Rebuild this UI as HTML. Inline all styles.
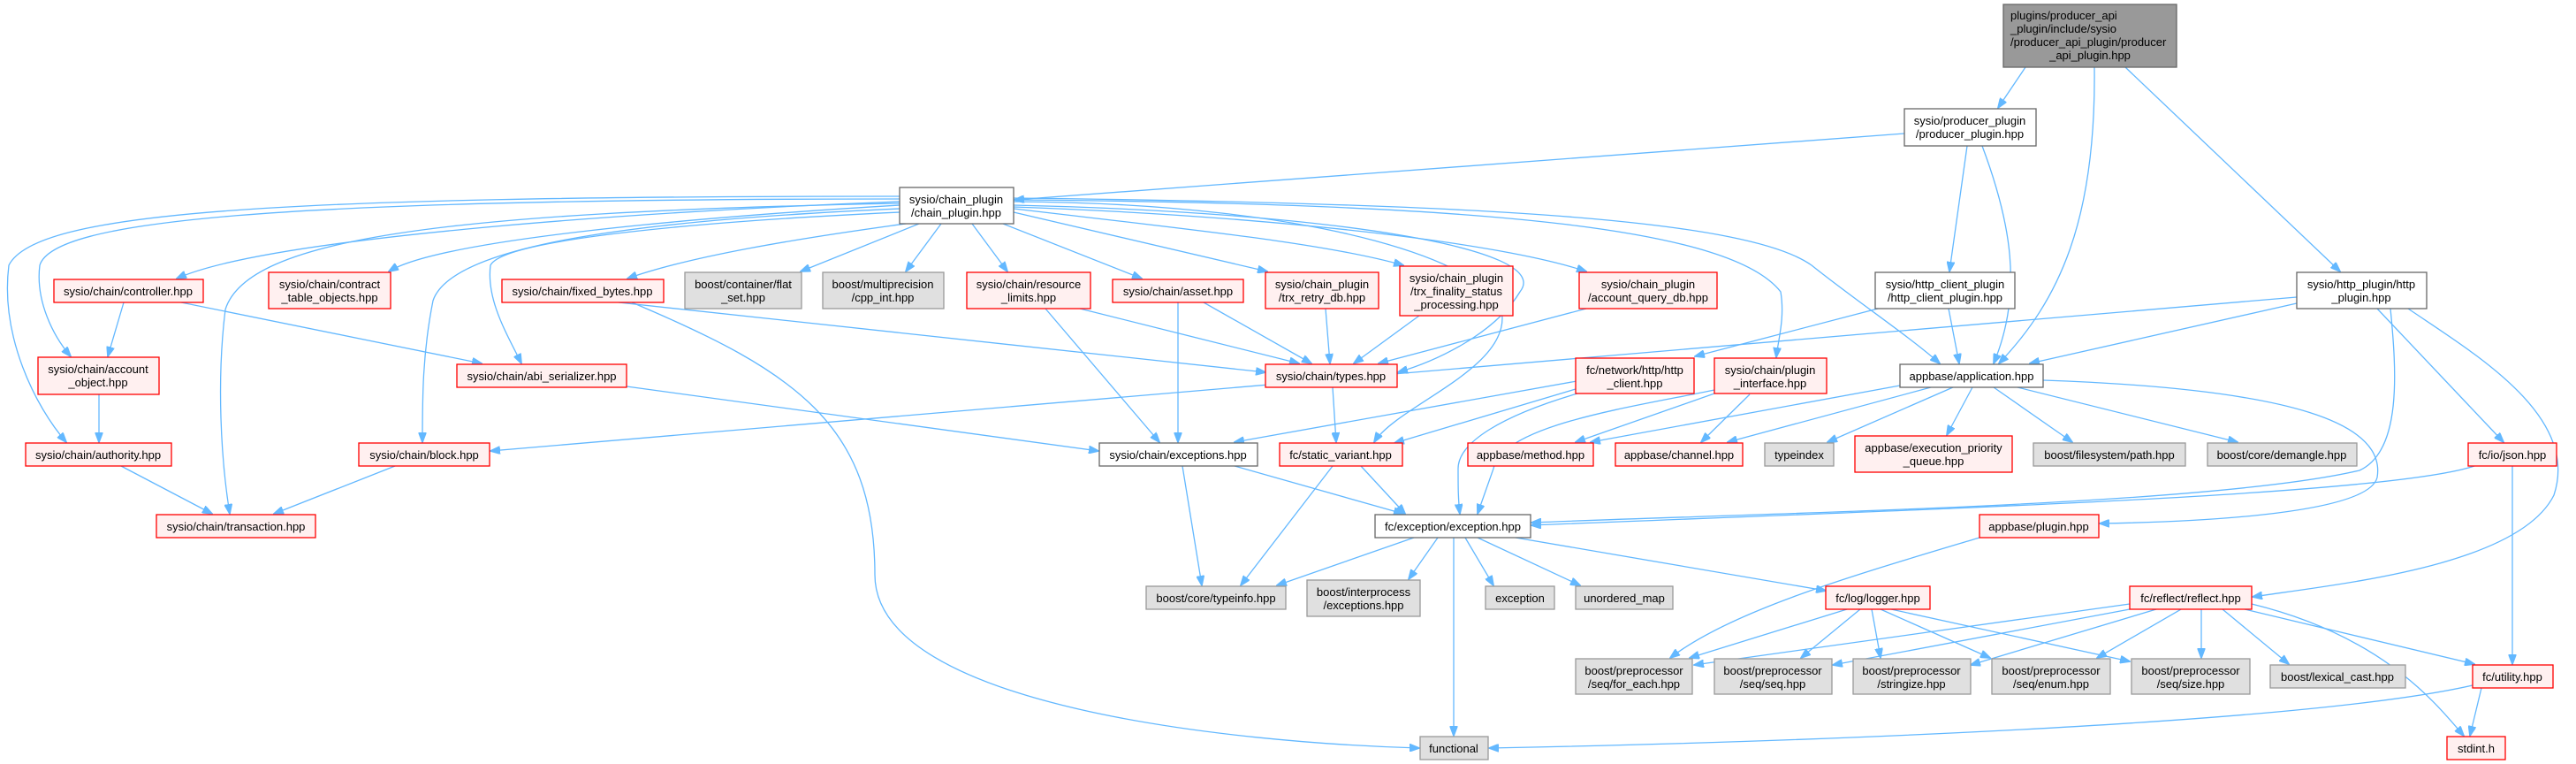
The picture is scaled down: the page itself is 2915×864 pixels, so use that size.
<!DOCTYPE html>
<html><head><meta charset="utf-8"><style>
html,body{margin:0;padding:0;background:#fff;width:2915px;height:864px;overflow:hidden}
svg{display:block}
text{font-family:"Liberation Sans",Arial,sans-serif;font-size:13px;fill:#000}
.e{fill:none;stroke:#63b8ff;stroke-width:1.3}
.r{fill:#fff0f0;stroke:#ff0000;stroke-width:1.3}
.g{fill:#e0e0e0;stroke:#999;stroke-width:1.3}
.w{fill:#fff;stroke:#666;stroke-width:1.3}
.k{fill:#999;stroke:#666;stroke-width:1.3}
</style></head><body>
<svg width="2915" height="864" viewBox="0 0 2915 864" xmlns="http://www.w3.org/2000/svg">
<defs><marker id="a" markerWidth="12" markerHeight="9" refX="11" refY="4.5" orient="auto" markerUnits="userSpaceOnUse"><path d="M0,0 L12,4.5 L0,9 z" fill="#63b8ff" stroke="#63b8ff"/></marker></defs>
<g marker-end="url(#a)">
<path class="e" d="M2292,76 L2261,122"/>
<path class="e" d="M2370,76 C2372,250 2330,340 2262,411"/>
<path class="e" d="M2405,76 L2648,307"/>
<path class="e" d="M2155,151 L1148,226"/>
<path class="e" d="M2226,165 L2206,307"/>
<path class="e" d="M2243,165 C2275,250 2290,330 2256,411"/>
<path class="e" d="M1018,228 C700,240 300,270 200,315"/>
<path class="e" d="M1018,232 C800,245 500,270 440,307"/>
<path class="e" d="M1025,253 C900,270 780,290 710,315"/>
<path class="e" d="M1040,253 L906,307"/>
<path class="e" d="M1065,253 L1025,307"/>
<path class="e" d="M1100,253 L1140,307"/>
<path class="e" d="M1135,253 L1292,315"/>
<path class="e" d="M1147,240 L1434,307"/>
<path class="e" d="M1147,236 C1350,260 1500,275 1588,300"/>
<path class="e" d="M1147,234 C1450,245 1700,275 1795,307"/>
<path class="e" d="M1147,232 C1500,240 1760,280 1720,330 C1690,380 1620,410 1582,421"/>
<path class="e" d="M1018,225 C300,225 60,250 45,300 C40,340 60,380 80,403"/>
<path class="e" d="M1018,222 C300,222 40,240 10,300 C0,380 40,460 75,500"/>
<path class="e" d="M1018,230 C500,240 280,270 255,350 C245,430 250,520 260,581"/>
<path class="e" d="M1018,236 C700,250 510,280 490,340 C478,400 478,450 478,500"/>
<path class="e" d="M1018,240 C800,250 570,270 555,300 C550,340 575,380 590,411"/>
<path class="e" d="M1147,228 C1500,230 1700,300 1700,360 C1700,420 1580,460 1555,500"/>
<path class="e" d="M1147,226 C1700,230 1960,260 2015,330 C2020,360 2012,385 2010,404"/>
<path class="e" d="M1147,224 C1700,230 1980,250 2050,300 C2100,340 2160,380 2195,411"/>
<path class="e" d="M700,342 L1432,421"/>
<path class="e" d="M715,342 C900,420 990,480 990,650 C990,800 1400,840 1606,846"/>
<path class="e" d="M140,342 L122,403"/>
<path class="e" d="M205,342 L545,411"/>
<path class="e" d="M112,446 L112,500"/>
<path class="e" d="M709,437 L1243,510"/>
<path class="e" d="M137,527 L240,581"/>
<path class="e" d="M447,527 L310,581"/>
<path class="e" d="M1183,349 L1312,500"/>
<path class="e" d="M1222,349 L1470,411"/>
<path class="e" d="M1333,342 L1333,500"/>
<path class="e" d="M1362,342 L1484,411"/>
<path class="e" d="M1500,349 L1505,411"/>
<path class="e" d="M1606,357 L1532,411"/>
<path class="e" d="M1795,349 L1560,411"/>
<path class="e" d="M1508,438 L1512,500"/>
<path class="e" d="M1338,527 L1360,662"/>
<path class="e" d="M1397,527 L1588,581"/>
<path class="e" d="M1508,527 L1404,662"/>
<path class="e" d="M1540,527 L1590,581"/>
<path class="e" d="M1600,608 L1445,662"/>
<path class="e" d="M1627,608 L1594,655"/>
<path class="e" d="M1645,608 L1645,832"/>
<path class="e" d="M1658,608 L1690,662"/>
<path class="e" d="M1672,608 L1788,662"/>
<path class="e" d="M1715,608 L2066,668"/>
<path class="e" d="M1783,440 L1578,501"/>
<path class="e" d="M1785,445 C1700,470 1650,500 1650,530 C1650,550 1650,565 1652,581"/>
<path class="e" d="M1790,430 L1397,500"/>
<path class="e" d="M1940,445 L1783,500"/>
<path class="e" d="M1980,446 L1925,500"/>
<path class="e" d="M1945,440 C1850,460 1700,480 1690,530 L1672,581"/>
<path class="e" d="M2125,349 L1918,403"/>
<path class="e" d="M2205,349 L2217,411"/>
<path class="e" d="M2599,336 L555,510"/>
<path class="e" d="M2599,343 L2297,411"/>
<path class="e" d="M2690,349 L2833,500"/>
<path class="e" d="M2725,349 C2800,400 2920,470 2890,560 C2850,640 2650,660 2549,675"/>
<path class="e" d="M2705,349 C2712,420 2718,510 2670,532 C2500,572 2000,580 1733,591"/>
<path class="e" d="M2150,436 L1800,500"/>
<path class="e" d="M2185,438 L1955,500"/>
<path class="e" d="M2210,438 L2068,500"/>
<path class="e" d="M2232,438 L2203,492"/>
<path class="e" d="M2256,438 L2345,500"/>
<path class="e" d="M2283,438 L2532,500"/>
<path class="e" d="M2312,430 C2600,440 2700,480 2690,540 C2680,580 2500,590 2376,592"/>
<path class="e" d="M2800,527 C2700,560 2200,575 1733,594"/>
<path class="e" d="M2843,527 L2843,751"/>
<path class="e" d="M2240,608 C2100,650 1960,690 1890,744"/>
<path class="e" d="M2090,689 L1912,744"/>
<path class="e" d="M2105,689 L2038,744"/>
<path class="e" d="M2118,689 L2128,744"/>
<path class="e" d="M2128,689 L2252,744"/>
<path class="e" d="M2140,689 L2410,748"/>
<path class="e" d="M2410,683 L1917,752"/>
<path class="e" d="M2410,689 L2074,752"/>
<path class="e" d="M2440,689 L2230,752"/>
<path class="e" d="M2468,689 L2373,744"/>
<path class="e" d="M2491,689 L2491,744"/>
<path class="e" d="M2515,689 L2590,751"/>
<path class="e" d="M2540,689 L2800,751"/>
<path class="e" d="M2548,683 C2700,720 2760,800 2788,832"/>
<path class="e" d="M2808,778 L2795,832"/>
<path class="e" d="M2798,775 C2600,820 2000,840 1685,846"/>
</g>
<g>
<rect class="k" x="2267" y="5" width="196" height="71"/>
<text x="2275" y="22">plugins/producer_api</text>
<text x="2275" y="37">_plugin/include/sysio</text>
<text x="2275" y="52">/producer_api_plugin/producer</text>
<text x="2365" y="67" text-anchor="middle">_api_plugin.hpp</text>
</g>
<g text-anchor="middle">
<rect class="w" x="2155" y="123" width="149" height="42"/><text x="2229" y="141">sysio/producer_plugin</text><text x="2229" y="156">/producer_plugin.hpp</text>
<rect class="w" x="1018" y="212" width="129" height="41"/><text x="1082" y="230">sysio/chain_plugin</text><text x="1082" y="245">/chain_plugin.hpp</text>
<rect class="r" x="61" y="316" width="169" height="26"/><text x="145" y="334">sysio/chain/controller.hpp</text>
<rect class="r" x="304" y="308" width="138" height="41"/><text x="373" y="326">sysio/chain/contract</text><text x="373" y="341">_table_objects.hpp</text>
<rect class="r" x="568" y="316" width="183" height="26"/><text x="659" y="334">sysio/chain/fixed_bytes.hpp</text>
<rect class="g" x="775" y="308" width="132" height="41"/><text x="841" y="326">boost/container/flat</text><text x="841" y="341">_set.hpp</text>
<rect class="g" x="931" y="308" width="137" height="41"/><text x="999" y="326">boost/multiprecision</text><text x="999" y="341">/cpp_int.hpp</text>
<rect class="r" x="1094" y="308" width="140" height="41"/><text x="1164" y="326">sysio/chain/resource</text><text x="1164" y="341">_limits.hpp</text>
<rect class="r" x="1259" y="316" width="148" height="26"/><text x="1333" y="334">sysio/chain/asset.hpp</text>
<rect class="r" x="1432" y="308" width="128" height="41"/><text x="1496" y="326">sysio/chain_plugin</text><text x="1496" y="341">/trx_retry_db.hpp</text>
<rect class="r" x="1584" y="301" width="128" height="56"/><text x="1648" y="319">sysio/chain_plugin</text><text x="1648" y="334">/trx_finality_status</text><text x="1648" y="349">_processing.hpp</text>
<rect class="r" x="1787" y="308" width="156" height="41"/><text x="1865" y="326">sysio/chain_plugin</text><text x="1865" y="341">/account_query_db.hpp</text>
<rect class="w" x="2122" y="308" width="158" height="41"/><text x="2201" y="326">sysio/http_client_plugin</text><text x="2201" y="341">/http_client_plugin.hpp</text>
<rect class="w" x="2599" y="308" width="147" height="41"/><text x="2672" y="326">sysio/http_plugin/http</text><text x="2672" y="341">_plugin.hpp</text>
<rect class="r" x="43" y="404" width="137" height="42"/><text x="111" y="422">sysio/chain/account</text><text x="111" y="437">_object.hpp</text>
<rect class="r" x="517" y="412" width="192" height="26"/><text x="613" y="430">sysio/chain/abi_serializer.hpp</text>
<rect class="r" x="1432" y="412" width="149" height="26"/><text x="1506" y="430">sysio/chain/types.hpp</text>
<rect class="r" x="1783" y="405" width="134" height="40"/><text x="1850" y="423">fc/network/http/http</text><text x="1850" y="438">_client.hpp</text>
<rect class="r" x="1940" y="405" width="127" height="40"/><text x="2003" y="423">sysio/chain/plugin</text><text x="2003" y="438">_interface.hpp</text>
<rect class="w" x="2150" y="412" width="162" height="26"/><text x="2231" y="430">appbase/application.hpp</text>
<rect class="r" x="29" y="501" width="165" height="26"/><text x="111" y="519">sysio/chain/authority.hpp</text>
<rect class="r" x="406" y="501" width="148" height="26"/><text x="480" y="519">sysio/chain/block.hpp</text>
<rect class="w" x="1244" y="501" width="179" height="26"/><text x="1333" y="519">sysio/chain/exceptions.hpp</text>
<rect class="r" x="1448" y="501" width="139" height="26"/><text x="1517" y="519">fc/static_variant.hpp</text>
<rect class="r" x="1661" y="501" width="142" height="26"/><text x="1732" y="519">appbase/method.hpp</text>
<rect class="r" x="1828" y="501" width="144" height="26"/><text x="1900" y="519">appbase/channel.hpp</text>
<rect class="g" x="1997" y="501" width="78" height="26"/><text x="2036" y="519">typeindex</text>
<rect class="r" x="2099" y="493" width="178" height="41"/><text x="2188" y="511">appbase/execution_priority</text><text x="2188" y="526">_queue.hpp</text>
<rect class="g" x="2301" y="501" width="172" height="26"/><text x="2387" y="519">boost/filesystem/path.hpp</text>
<rect class="g" x="2498" y="501" width="169" height="26"/><text x="2582" y="519">boost/core/demangle.hpp</text>
<rect class="r" x="2793" y="501" width="100" height="26"/><text x="2843" y="519">fc/io/json.hpp</text>
<rect class="r" x="177" y="582" width="180" height="26"/><text x="267" y="600">sysio/chain/transaction.hpp</text>
<rect class="w" x="1556" y="582" width="176" height="26"/><text x="1644" y="600">fc/exception/exception.hpp</text>
<rect class="r" x="2240" y="582" width="135" height="26"/><text x="2307" y="600">appbase/plugin.hpp</text>
<rect class="g" x="1297" y="663" width="158" height="26"/><text x="1376" y="681">boost/core/typeinfo.hpp</text>
<rect class="g" x="1479" y="656" width="128" height="41"/><text x="1543" y="674">boost/interprocess</text><text x="1543" y="689">/exceptions.hpp</text>
<rect class="g" x="1681" y="663" width="78" height="26"/><text x="1720" y="681">exception</text>
<rect class="g" x="1783" y="663" width="110" height="26"/><text x="1838" y="681">unordered_map</text>
<rect class="r" x="2066" y="663" width="118" height="26"/><text x="2125" y="681">fc/log/logger.hpp</text>
<rect class="r" x="2410" y="663" width="138" height="26"/><text x="2479" y="681">fc/reflect/reflect.hpp</text>
<rect class="g" x="1783" y="745" width="132" height="40"/><text x="1849" y="763">boost/preprocessor</text><text x="1849" y="778">/seq/for_each.hpp</text>
<rect class="g" x="1940" y="745" width="133" height="40"/><text x="2006" y="763">boost/preprocessor</text><text x="2006" y="778">/seq/seq.hpp</text>
<rect class="g" x="2097" y="745" width="133" height="40"/><text x="2163" y="763">boost/preprocessor</text><text x="2163" y="778">/stringize.hpp</text>
<rect class="g" x="2254" y="745" width="134" height="40"/><text x="2321" y="763">boost/preprocessor</text><text x="2321" y="778">/seq/enum.hpp</text>
<rect class="g" x="2412" y="745" width="134" height="40"/><text x="2479" y="763">boost/preprocessor</text><text x="2479" y="778">/seq/size.hpp</text>
<rect class="g" x="2569" y="752" width="153" height="26"/><text x="2645" y="770">boost/lexical_cast.hpp</text>
<rect class="r" x="2798" y="752" width="91" height="26"/><text x="2843" y="770">fc/utility.hpp</text>
<rect class="r" x="2769" y="833" width="66" height="26"/><text x="2802" y="851">stdint.h</text>
<rect class="g" x="1607" y="833" width="77" height="26"/><text x="1645" y="851">functional</text>
</g>
</svg>
</body></html>
